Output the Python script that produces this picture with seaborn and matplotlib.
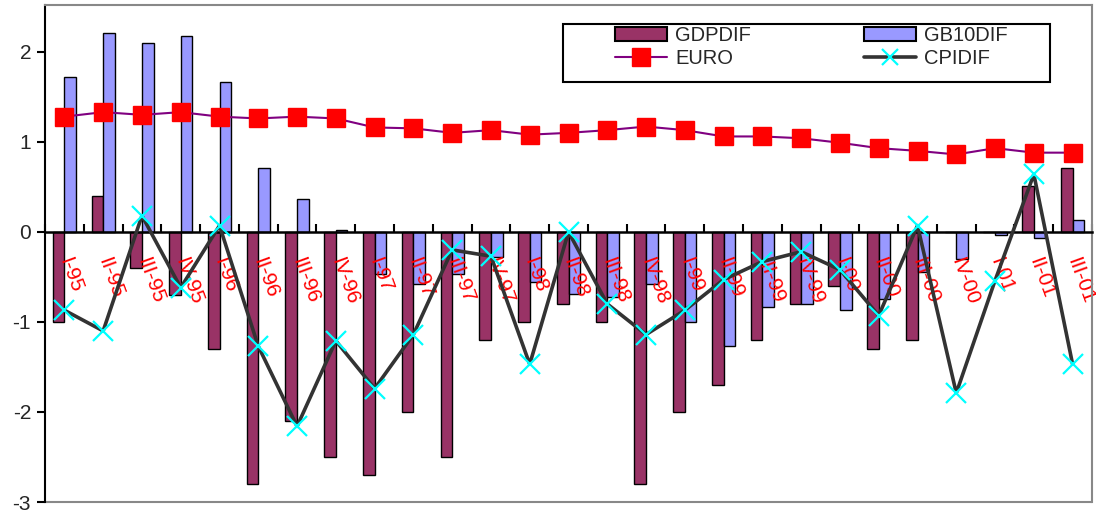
import numpy as np
import pandas as pd
import matplotlib
matplotlib.use("Agg")
import matplotlib.pyplot as plt
import seaborn as sns
from matplotlib.patches import Rectangle
from matplotlib.lines import Line2D
from matplotlib.ticker import FixedLocator

# quarters and series
quarters = ['I-95', 'II-95', 'III-95', 'IV-95', 'I-96', 'II-96', 'III-96', 'IV-96',
            'I-97', 'II-97', 'III-97', 'IV-97', 'I-98', 'II-98', 'III-98', 'IV-98',
            'I-99', 'II-99', 'III-99', 'IV-99', 'I-00', 'II-00', 'III-00', 'IV-00',
            'I-01', 'II-01', 'III-01']
gdpdif = [-1.0, 0.4, -0.4, -0.7, -1.3, -2.8, -2.1, -2.5,
          -2.7, -2.0, -2.5, -1.2, -1.0, -0.8, -1.0, -2.8,
          -2.0, -1.7, -1.2, -0.8, -0.6, -1.3, -1.2, 0.0,
          0.0, 0.51, 0.71]
gb10dif = [1.72, 2.21, 2.1, 2.18, 1.67, 0.71, 0.37, 0.02,
           -0.47, -0.58, -0.47, -0.28, -0.56, -0.69, -0.72, -0.58,
           -1.0, -1.27, -0.83, -0.8, -0.87, -0.74, -0.44, -0.3,
           -0.04, -0.07, 0.13]
euro = [1.28, 1.33, 1.30, 1.33, 1.28, 1.26, 1.28, 1.26,
        1.16, 1.15, 1.10, 1.13, 1.08, 1.10, 1.13, 1.17,
        1.13, 1.06, 1.06, 1.04, 0.99, 0.93, 0.90, 0.86,
        0.93, 0.88, 0.88]
cpidif = [-0.87, -1.1, 0.18, -0.62, 0.07, -1.27, -2.16, -1.21,
          -1.74, -1.14, -0.2, -0.27, -1.47, 0.0, -0.8, -1.14,
          -0.87, -0.53, -0.33, -0.22, -0.42, -0.93, 0.07, -1.79,
          -0.54, 0.64, -1.47]

sns.set_style("white")
plt.rcParams['font.family'] = ['Liberation Sans', 'DejaVu Sans']
plt.rcParams['axes.unicode_minus'] = False

df = pd.DataFrame({
    'quarter': quarters * 2,
    'series': ['GDPDIF'] * len(quarters) + ['GB10DIF'] * len(quarters),
    'value': gdpdif + gb10dif,
})

fig = plt.figure(figsize=(10.96, 5.14), dpi=100)
ax = fig.add_axes([45 / 1096, 1 - 502 / 514, 1047 / 1096, 497 / 514])

sns.barplot(data=df, x='quarter', y='value', hue='series',
            palette={'GDPDIF': '#993366', 'GB10DIF': '#9999FF'},
            saturation=1, width=0.6, edgecolor='black', linewidth=1,
            errorbar=None, ax=ax, zorder=1, legend=False)

xs = np.arange(len(quarters))
ax.plot(xs, euro, color='#800080', lw=1.5, marker='s', markersize=13.5,
        markerfacecolor='red', markeredgecolor='red', zorder=4)
ax.plot(xs, cpidif, color='#333333', lw=2.6, marker='x', markersize=14,
        markeredgecolor='cyan', markeredgewidth=1.6, zorder=3)

ax.set_ylim(-3, 2.52)
ax.set_xlim(-0.5, len(quarters) - 0.5)
ax.set_xlabel('')
ax.set_ylabel('')

# y axis
ax.set_yticks([-3, -2, -1, 0, 1, 2])
ax.set_yticklabels(['-3', '-2', '-1', '0', '1', '2'])
ax.tick_params(axis='y', direction='out', length=6, width=1.5, color='black',
               labelsize=15, pad=4, left=True)

# x axis sits on the zero line
ax.spines['bottom'].set_position(('data', 0))
ax.spines['bottom'].set_color('black')
ax.spines['bottom'].set_linewidth(1.8)
ax.spines['left'].set_color('black')
ax.spines['left'].set_linewidth(1.5)
for s in ['top', 'right']:
    ax.spines[s].set_color('#888888')
    ax.spines[s].set_linewidth(1.5)
ax.add_patch(Rectangle((0, 0), 1, 0.0, transform=ax.transAxes, fill=False,
                       edgecolor='#888888', lw=1.5, clip_on=False))

ax.xaxis.set_minor_locator(FixedLocator(np.arange(-0.5, len(quarters), 1)))
ax.tick_params(axis='x', which='minor', direction='in', length=6, width=1.5,
               color='black', bottom=True)
ax.tick_params(axis='x', which='major', length=0, pad=19)
for lab in ax.get_xticklabels():
    lab.set_rotation(-70)
    lab.set_rotation_mode('anchor')
    lab.set_ha('left')
    lab.set_va('center')
    lab.set_color('red')
    lab.set_fontsize(15)
ax.xaxis.set_zorder(2)

# legend: box drawn separately so the padding matches the reference
ax.add_patch(Rectangle((0.4947, 0.8451), 0.4652, 0.1167, transform=ax.transAxes,
                       facecolor='white', edgecolor='black', lw=1.5, zorder=5))
handles = [Rectangle((0, 0), 1, 1, facecolor='#993366', edgecolor='black', lw=1.5),
           Line2D([], [], color='#800080', lw=1.5, marker='s', markersize=13.5,
                  markerfacecolor='red', markeredgecolor='red'),
           Rectangle((0, 0), 1, 1, facecolor='#9999FF', edgecolor='black', lw=1.5),
           Line2D([], [], color='#333333', lw=2.6, marker='x', markersize=11,
                  markeredgecolor='cyan', markeredgewidth=1.6)]
labels = ['GDPDIF', 'EURO', 'GB10DIF', 'CPIDIF']
leg = ax.legend(handles, labels, ncol=2, loc='upper left',
                bbox_to_anchor=(0.5444, 0.958), fontsize=14.5, frameon=False,
                handlelength=2.6, handleheight=0.65, handletextpad=0.4,
                labelspacing=0.2, columnspacing=5.6, borderpad=0,
                borderaxespad=0)
leg.set_zorder(6)

fig.savefig('out.png', dpi=100, facecolor='white')
